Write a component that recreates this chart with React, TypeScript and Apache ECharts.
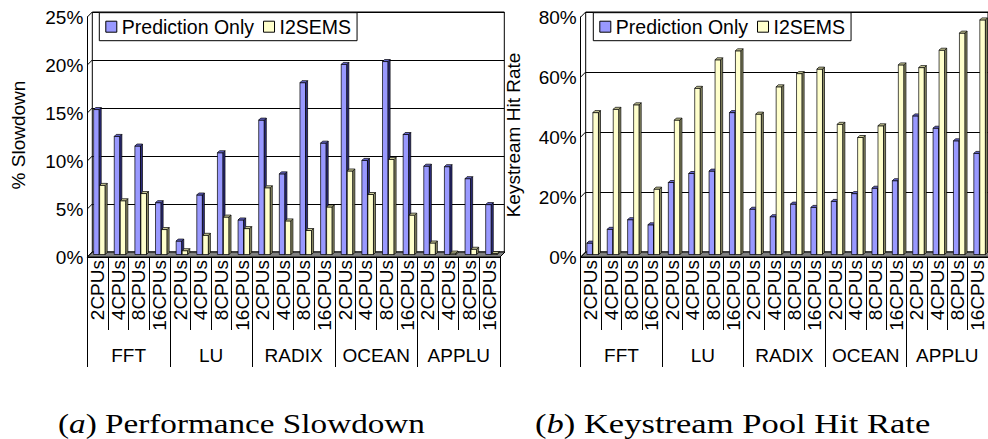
import React, { useEffect, useRef } from 'react';
import * as echarts from 'echarts';

const CPU_LABELS = ['2CPUs', '4CPUs', '8CPUs', '16CPUs'];
const GROUPS = ['FFT', 'LU', 'RADIX', 'OCEAN', 'APPLU'];
const CATEGORIES = GROUPS.flatMap(() => CPU_LABELS);

const SERIES_NAMES = ['Prediction Only', 'I2SEMS'];

// (a) % Slowdown
const SLOW_PRED = [15.1, 12.3, 11.3, 5.4, 1.4, 6.2, 10.6, 3.6, 14.0, 8.4, 17.9, 11.6, 19.8, 9.8, 20.1, 12.5, 9.2, 9.15, 7.9, 5.2];
const SLOW_I2SEMS = [7.2, 5.6, 6.35, 2.6, 0.4, 2.0, 3.9, 2.7, 6.95, 3.5, 2.5, 4.95, 8.7, 6.25, 9.9, 4.1, 1.2, 0.15, 0.55, 0.1];
const SLOW_TICKS = [0, 5, 10, 15, 20, 25];

// (b) Keystream hit rate
const HIT_PRED = [3.8, 8.4, 11.6, 9.9, 24.0, 27.0, 27.8, 47.3, 15.1, 12.6, 16.8, 15.7, 17.7, 20.3, 22.1, 24.6, 46.2, 42.1, 37.9, 33.7];
const HIT_I2SEMS = [47.3, 48.4, 49.9, 21.8, 44.8, 55.4, 64.9, 67.9, 46.8, 55.9, 60.3, 61.8, 43.4, 39.0, 42.9, 63.2, 62.3, 68.1, 73.8, 78.2];
const HIT_TICKS = [0, 20, 40, 60, 80];

const FONT = "'Liberation Sans', Arial, sans-serif";
const SERIF = "'Liberation Serif', 'Times New Roman', serif";
const WALL_D = 5; // 3D wall depth offset
const BAR_D = 2; // bar depth
const BAR_W = 5.6;
const LIFT = 2.5;

const BLUE = { front: '#9999FF', side: '#2E2E80', top: '#6666CC' };
const YELLOW = { front: '#FFFFCC', side: '#8C8C66', top: '#CCCC99' };

function barRender(offset: number, c: { front: string; side: string; top: string }) {
  return (params: any, api: any) => {
    const idx = api.value(0);
    const v = api.value(1);
    const pTop = api.coord([idx, v]);
    const pBase = api.coord([idx, 0]);
    const xl = pTop[0] + offset;
    const xr = xl + BAR_W;
    const yt = pTop[1] - LIFT;
    const yb = pBase[1] - LIFT;
    const st = { stroke: '#000', lineWidth: 0.7 };
    return {
      type: 'group',
      children: [
        { type: 'polygon', shape: { points: [[xl, yt], [xr, yt], [xr, yb], [xl, yb]] }, style: { fill: c.front, ...st } },
        { type: 'polygon', shape: { points: [[xr, yt], [xr + BAR_D, yt - BAR_D], [xr + BAR_D, yb - BAR_D], [xr, yb]] }, style: { fill: c.side, ...st } },
        { type: 'polygon', shape: { points: [[xl, yt], [xl + BAR_D, yt - BAR_D], [xr + BAR_D, yt - BAR_D], [xr, yt]] }, style: { fill: c.top, ...st } },
      ],
    };
  };
}

function frameRender(params: any, api: any) {
  const t = api.value(1);
  const p = api.coord([0, t]);
  const cs = params.coordSys;
  const children: any[] = [];
  if (params.dataIndex === 0) {
    const yb = cs.y + cs.height;
    children.push({
      type: 'polygon',
      shape: { points: [[cs.x, yb], [cs.x + cs.width, yb], [cs.x + cs.width + WALL_D, yb - WALL_D], [cs.x + WALL_D, yb - WALL_D]] },
      style: { fill: '#808080', stroke: '#000', lineWidth: 1 },
    });
  }
  children.push({
    type: 'line',
    shape: { x1: cs.x, y1: p[1], x2: cs.x + WALL_D, y2: p[1] - WALL_D },
    style: { stroke: '#000', lineWidth: 1 },
  });
  return { type: 'group', children };
}

function cpuAxis(gridIndex: number) {
  return {
    type: 'category', gridIndex, data: CATEGORIES, position: 'bottom',
    axisLine: { show: true, lineStyle: { color: '#000', width: 1 } },
    axisTick: { show: true, interval: 0, length: 73, lineStyle: { color: '#000', width: 1 } },
    axisLabel: { interval: 0, rotate: 90, margin: 3, fontSize: 19, fontFamily: FONT, color: '#000' },
  };
}
function groupAxis(gridIndex: number) {
  return {
    type: 'category', gridIndex, data: GROUPS, position: 'bottom',
    axisLine: { show: false },
    axisTick: { show: true, interval: 0, length: 110, lineStyle: { color: '#000', width: 1 } },
    axisLabel: { interval: 0, margin: 89, fontSize: 19, fontFamily: FONT, color: '#000', lineHeight: 19 },
  };
}
function hiddenX(gridIndex: number) {
  return { type: 'category', gridIndex, data: CATEGORIES, show: false };
}
function frontY(gridIndex: number, max: number, interval: number) {
  return {
    type: 'value', gridIndex, min: 0, max, interval,
    axisLine: { show: true, lineStyle: { color: '#000', width: 1 } },
    axisTick: { show: false },
    splitLine: { show: false },
    axisLabel: { formatter: '{value}%', margin: 4, fontSize: 19, fontFamily: FONT, color: '#000' },
  };
}
function backY(gridIndex: number, max: number, interval: number) {
  return {
    type: 'value', gridIndex, min: 0, max, interval,
    axisLine: { show: false }, axisTick: { show: false }, axisLabel: { show: false },
    splitLine: { show: true, lineStyle: { color: '#000', width: 1 } },
  };
}

function legendAt(left: number) {
  return {
    left, top: 12.7, orient: 'horizontal', data: SERIES_NAMES, icon: 'rect',
    itemWidth: 11, itemHeight: 11, itemGap: 9, padding: [4, 6, 4, 6],
    backgroundColor: '#fff', borderColor: '#000', borderWidth: 1, selectedMode: false,
    itemStyle: { borderColor: '#000', borderWidth: 1 },
    textStyle: { fontSize: 19.5, fontFamily: FONT, color: '#000', lineHeight: 19 },
  };
}

function panelSeries(xIdx: number, yIdx: number, pred: number[], i2: number[], ticks: number[]) {
  return [
    {
      type: 'custom', name: 'frame', xAxisIndex: xIdx, yAxisIndex: yIdx, z: 1, silent: true,
      renderItem: frameRender, data: ticks.map((t) => [0, t]),
    },
    {
      type: 'custom', name: SERIES_NAMES[0], xAxisIndex: xIdx, yAxisIndex: yIdx, z: 2,
      itemStyle: { color: BLUE.front, borderColor: '#000' },
      renderItem: barRender(-4, BLUE), data: pred.map((v, i) => [i, v]),
    },
    {
      type: 'custom', name: SERIES_NAMES[1], xAxisIndex: xIdx, yAxisIndex: yIdx, z: 3,
      itemStyle: { color: YELLOW.front, borderColor: '#000' },
      renderItem: barRender(2, YELLOW), data: i2.map((v, i) => [i, v]),
    },
  ];
}

export default function App() {
  const ref = useRef<HTMLDivElement>(null);
  useEffect(() => {
    if (!ref.current) return;
    const chart = echarts.init(ref.current, undefined, { renderer: 'svg' });
    const option: any = {
      animation: false,
      backgroundColor: '#fff',
      grid: [
        { left: 87.3, top: 17, width: 412.7, height: 240, show: false },
        { left: 92.3, top: 12, width: 412, height: 240, show: true, borderColor: '#000', borderWidth: 1, backgroundColor: 'transparent' },
        { left: 580.7, top: 17, width: 412.7, height: 240, show: false },
        { left: 585.7, top: 12, width: 412, height: 240, show: true, borderColor: '#000', borderWidth: 1, backgroundColor: 'transparent' },
      ],
      xAxis: [cpuAxis(0), groupAxis(0), hiddenX(1), cpuAxis(2), groupAxis(2), hiddenX(3)],
      yAxis: [frontY(0, 25, 5), backY(1, 25, 5), frontY(2, 80, 20), backY(3, 80, 20)],
      legend: [legendAt(99.3), legendAt(593.3)],
      series: [
        ...panelSeries(0, 0, SLOW_PRED, SLOW_I2SEMS, SLOW_TICKS),
        ...panelSeries(3, 2, HIT_PRED, HIT_I2SEMS, HIT_TICKS),
      ],
      graphic: [
        {
          type: 'text', x: 18.5, y: 135, rotation: Math.PI / 2, z: 10,
          style: { text: '% Slowdown', fontSize: 19, fontFamily: FONT, fill: '#000', align: 'center', verticalAlign: 'middle' },
        },
        {
          type: 'text', x: 513, y: 135, rotation: Math.PI / 2, z: 10,
          style: { text: 'Keystream Hit Rate', fontSize: 19, fontFamily: FONT, fill: '#000', align: 'center', verticalAlign: 'middle' },
        },
        {
          type: 'text', x: 58, y: 424, scaleX: 1.23, z: 10,
          style: {
            text: '{n|(}{i|a}{n|) Performance Slowdown}',
            fontSize: 27, fontFamily: SERIF, fill: '#000', align: 'left', verticalAlign: 'middle',
            rich: {
              n: { fontSize: 27, fontFamily: SERIF, fill: '#000' },
              i: { fontSize: 27, fontFamily: SERIF, fontStyle: 'italic', fill: '#000' },
            },
          },
        },
        {
          type: 'text', x: 535, y: 424, scaleX: 1.28, z: 10,
          style: {
            text: '{n|(}{i|b}{n|) Keystream Pool Hit Rate}',
            fontSize: 27, fontFamily: SERIF, fill: '#000', align: 'left', verticalAlign: 'middle',
            rich: {
              n: { fontSize: 27, fontFamily: SERIF, fill: '#000' },
              i: { fontSize: 27, fontFamily: SERIF, fontStyle: 'italic', fill: '#000' },
            },
          },
        },
      ],
    };
    chart.setOption(option);
    return () => chart.dispose();
  }, []);
  return <div ref={ref} style={{ position: 'fixed', left: 0, top: 0, width: 988, height: 439 }} />;
}
